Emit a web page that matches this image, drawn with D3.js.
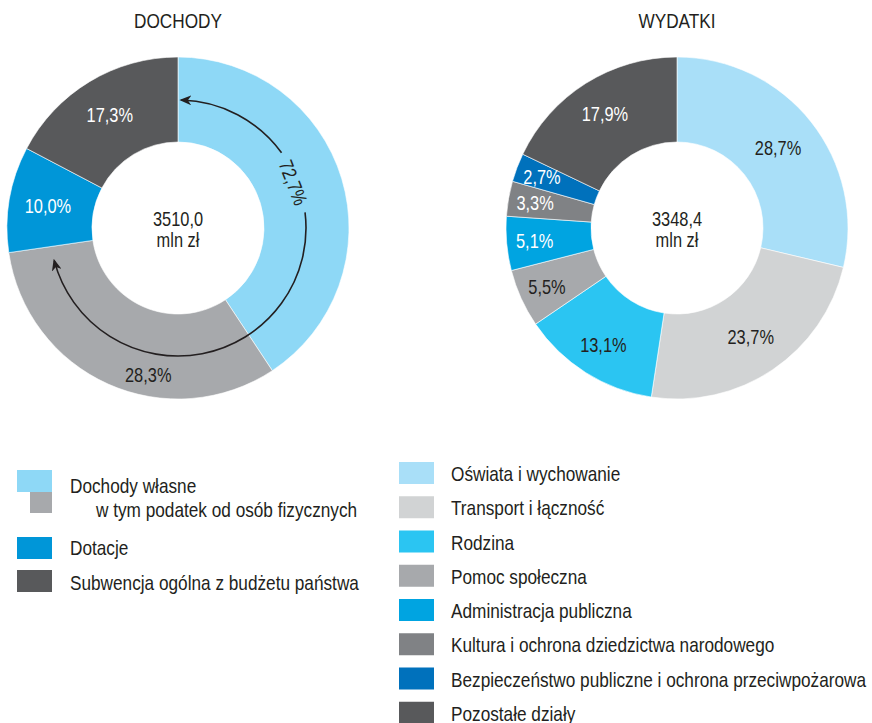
<!DOCTYPE html>
<html>
<head>
<meta charset="utf-8">
<script src="https://cdn.jsdelivr.net/npm/d3@7"></script>
<style>
  body { margin: 0; background: #fff; }
  svg text { font-family: "Liberation Sans", Arial, sans-serif; fill: #231f20; }
</style>
</head>
<body>
<svg id="chart"></svg>
<script>
// DOCHODY (slice sizes as drawn, texts as printed)
const incomeLabels = ['Dochody własne', 'w tym podatek od osób fizycznych', 'Dotacje', 'Subwencja ogólna z budżetu państwa'];
const incomeValues = [40.7, 32.0, 10.0, 17.3];
const incomeShown = ['', '28,3%', '10,0%', '17,3%'];
const incomeColors = ['#8ed8f6', '#a7a9ac', '#0096d8', '#58595b'];
const incomeTotal = '3510,0';
const ownIncomeLabel = '72,7%';

// WYDATKI
const spendLabels = ['Oświata i wychowanie', 'Transport i łączność', 'Rodzina', 'Pomoc społeczna',
  'Administracja publiczna', 'Kultura i ochrona dziedzictwa narodowego',
  'Bezpieczeństwo publiczne i ochrona przeciwpożarowa', 'Pozostałe działy'];
const spendValues = [28.7, 23.7, 13.1, 5.5, 5.1, 3.3, 2.7, 17.9];
const spendColors = ['#a9dff8', '#d1d3d4', '#2bc5f2', '#a7a9ac', '#00a4e1', '#808285', '#0071bc', '#58595b'];
const spendTotal = '3348,4';

const fmt = v => d3.format('.1f')(v).replace('.', ',') + '%';
const SX = 0.82; // narrow the face to look like a condensed sans
const darkText = c => d3.hsl(c).l > 0.55;

class Donut {
  constructor(_config, _values, _colors) {
    this.config = {
      parent: _config.parent,
      cx: _config.cx,
      cy: _config.cy,
      title: _config.title,
      total: _config.total,
      outer: _config.outer || 171,
      inner: _config.inner || 86
    };
    this.values = _values;
    this.colors = _colors;
    this.initVis();
  }

  initVis() {
    let vis = this;
    vis.g = vis.config.parent.append('g')
      .attr('transform', `translate(${vis.config.cx},${vis.config.cy})`);

    vis.pie = d3.pie().sort(null).value(d => d);
    vis.arc = d3.arc().innerRadius(vis.config.inner).outerRadius(vis.config.outer);
    vis.arcs = vis.pie(vis.values).map((d, i) => Object.assign(d, {i: i}));

    vis.g.selectAll('.slice')
      .data(vis.arcs)
      .join('path')
      .attr('class', 'slice')
      .attr('d', vis.arc)
      .attr('fill', d => vis.colors[d.i])
      .attr('stroke', '#fff')
      .attr('stroke-width', 0.6);

    vis.g.append('text')
      .attr('transform', `translate(0,${-vis.config.cy + 28}) scale(${SX},1)`)
      .attr('text-anchor', 'middle')
      .style('font-size', '21px')
      .text(vis.config.title);

    vis.g.append('text')
      .attr('transform', `translate(0,-2) scale(${SX},1)`)
      .attr('text-anchor', 'middle')
      .style('font-size', '20px')
      .text(vis.config.total);

    vis.g.append('text')
      .attr('transform', `translate(0,19) scale(${SX},1)`)
      .attr('text-anchor', 'middle')
      .style('font-size', '20px')
      .text('mln zł');
  }
}

const W = 872, H = 723;
const svg = d3.select('#chart').attr('width', W).attr('height', H);

svg.append('defs').append('marker')
  .attr('id', 'arrow')
  .attr('viewBox', '0 0 12 10')
  .attr('refX', 10).attr('refY', 5)
  .attr('markerWidth', 12).attr('markerHeight', 10)
  .attr('markerUnits', 'userSpaceOnUse')
  .attr('orient', 'auto')
  .append('path')
  .attr('d', 'M0,0 L12,5 L0,10 L3.5,5 Z')
  .attr('fill', '#231f20');

const left = new Donut({parent: svg, cx: 178, cy: 228, title: 'DOCHODY', total: incomeTotal}, incomeValues, incomeColors);
const right = new Donut({parent: svg, cx: 677, cy: 228, title: 'WYDATKI', total: spendTotal}, spendValues, spendColors);

// slice labels, left
left.g.selectAll('.lbl')
  .data(left.arcs.filter(d => incomeShown[d.i] !== ''))
  .join('text')
  .attr('class', 'lbl')
  .attr('transform', d => {
    let a = (d.startAngle + d.endAngle) / 2, r = 132;
    if (d.i === 1) { a = d.startAngle + (d.endAngle - d.startAngle) * 0.39; r = 150; }
    return `translate(${Math.sin(a) * r},${-Math.cos(a) * r}) scale(${SX},1)`;
  })
  .attr('dy', '0.36em')
  .attr('text-anchor', 'middle')
  .style('font-size', '20px')
  .style('fill', d => darkText(incomeColors[d.i]) ? '#231f20' : '#fff')
  .text(d => incomeShown[d.i]);

// arrow showing share of own income
const own = left.arcs[1].endAngle;
const r0 = 128;
const deg = Math.PI / 180;
const toSvg = a => a - Math.PI / 2;
const gapA = 54 * deg, gapB = 83 * deg;

const p1 = d3.path();
p1.arc(0, 0, r0, toSvg(gapA), toSvg(1.5 * deg), true);
left.g.append('path').attr('d', p1.toString())
  .attr('fill', 'none').attr('stroke', '#231f20').attr('stroke-width', 1.6)
  .attr('marker-end', 'url(#arrow)');

const p2 = d3.path();
p2.arc(0, 0, r0, toSvg(gapB), toSvg(own - 6.5 * deg), false);
left.g.append('path').attr('d', p2.toString())
  .attr('fill', 'none').attr('stroke', '#231f20').attr('stroke-width', 1.6)
  .attr('marker-end', 'url(#arrow)');

const midA = (gapA + gapB) / 2;
left.g.append('text')
  .attr('transform', `translate(${Math.sin(midA) * (r0 - 4)},${-Math.cos(midA) * (r0 - 4)}) rotate(${midA / deg}) scale(${SX},1)`)
  .attr('dy', '0.36em')
  .attr('text-anchor', 'middle')
  .style('font-size', '20px')
  .text(ownIncomeLabel);

// slice labels, right (small slices pushed a bit outwards)
right.g.selectAll('.lbl')
  .data(right.arcs)
  .join('text')
  .attr('class', 'lbl')
  .attr('transform', d => {
    const a = (d.startAngle + d.endAngle) / 2;
    const r = 146 - d.data * 0.6;
    return `translate(${Math.sin(a) * r},${-Math.cos(a) * r}) scale(${SX},1)`;
  })
  .attr('dy', '0.36em')
  .attr('text-anchor', 'middle')
  .style('font-size', '20px')
  .style('fill', d => darkText(spendColors[d.i]) ? '#231f20' : '#fff')
  .text(d => fmt(d.data));

// legend, left
const legL = svg.append('g');
const legLRows = [
  {x: 17, y: 470, w: 35, h: 22, c: 0, tx: 70, ty: 493},
  {x: 30, y: 492, w: 22, h: 21, c: 1, tx: 96, ty: 517},
  {x: 17, y: 537, w: 35, h: 22, c: 2, tx: 70, ty: 555},
  {x: 17, y: 570, w: 35, h: 22, c: 3, tx: 70, ty: 590}
];
legL.selectAll('rect')
  .data(legLRows)
  .join('rect')
  .attr('x', d => d.x).attr('y', d => d.y)
  .attr('width', d => d.w).attr('height', d => d.h)
  .attr('fill', d => incomeColors[d.c]);
legL.selectAll('text')
  .data(legLRows)
  .join('text')
  .attr('transform', d => `translate(${d.tx},${d.ty}) scale(${SX},1)`)
  .style('font-size', '21px')
  .text(d => incomeLabels[d.c]);

// legend, right
const legY = d3.scaleBand().domain(d3.range(spendLabels.length)).range([456, 730]);
const legR = svg.append('g');
legR.selectAll('rect')
  .data(spendLabels)
  .join('rect')
  .attr('x', 399)
  .attr('y', (d, i) => legY(i) + 6)
  .attr('width', 35).attr('height', 22)
  .attr('fill', (d, i) => spendColors[i]);
legR.selectAll('text')
  .data(spendLabels)
  .join('text')
  .attr('transform', (d, i) => `translate(451,${legY(i) + 25}) scale(${SX},1)`)
  .style('font-size', '21px')
  .text(d => d);
</script>
</body>
</html>
